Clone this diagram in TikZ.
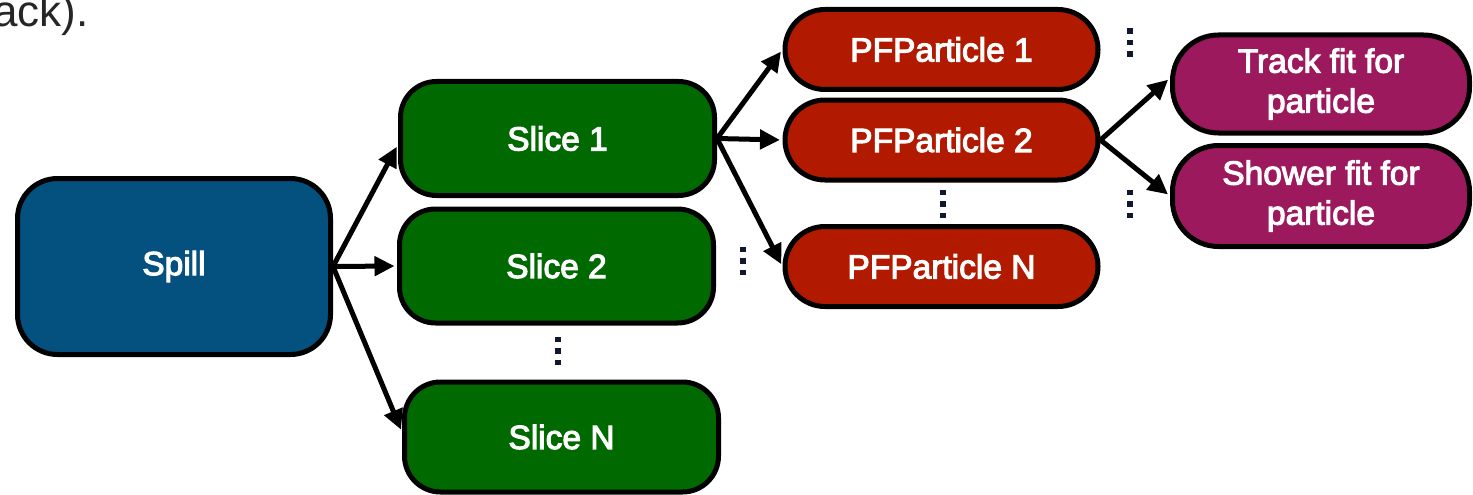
\documentclass[tikz,border=0pt]{standalone}
\usepackage{fontspec}
\setmainfont{Liberation Sans}
\newfontfamily\boxfont{Liberation Sans}[FakeBold=3.2]
\usetikzlibrary{arrows.meta}
\definecolor{spillblue}{HTML}{04507F}
\definecolor{slicegreen}{HTML}{006A00}
\definecolor{pfred}{HTML}{B21A00}
\definecolor{fitpurple}{HTML}{9B195C}
\definecolor{dotcol}{HTML}{101830}
\begin{document}
\begin{tikzpicture}[x=1pt,y=-1pt,
  box/.style={draw=black, line width=5pt, text=white, font=\boxfont\fontsize{33.5}{40}\selectfont, align=center, inner sep=0pt},
  slicebox/.style={box, fill=slicegreen, minimum width=314pt, minimum height=114pt, rounded corners=36pt},
  pfbox/.style={box, fill=pfred, minimum width=313pt, minimum height=80pt, rounded corners=40pt},
  fitbox/.style={box, fill=fitpurple, minimum width=297pt, minimum height=98pt, rounded corners=46pt},
  arr/.style={line width=5pt, -{Triangle[length=20pt,width=19pt]}, shorten >=2.5pt},
  dotsq/.style={fill=dotcol}]
\useasboundingbox (0,0) rectangle (1473,495);
\node[anchor=base west, inner sep=0pt, font=\fontsize{44}{50}\selectfont, text=black!85] (txt) at (-7,27) {ack).};
% nodes
\node[box, fill=spillblue, minimum width=313pt, minimum height=176pt, rounded corners=40pt] (spill) at (174,266.5) {Spill};
\node[slicebox] (s1) at (557.5,138.5) {Slice 1};
\node[slicebox] (s2) at (556.5,266) {Slice 2};
\node[slicebox, minimum height=110pt] (sn) at (561.5,437) {Slice N};
\node[pfbox] (p1) at (941.5,49.5) {PFParticle 1};
\node[pfbox] (p2) at (941.5,140) {PFParticle 2};
\node[pfbox] (pn) at (941.5,266.5) {PFParticle N};
\node[fitbox] (track) at (1321,84) {Track fit for\\particle};
\node[fitbox, minimum height=101pt] (shower) at (1321,196) {Shower fit for\\particle};
% connectors
\draw[arr] (spill.east) -- ([yshift=-6pt]s1.west);
\draw[arr] (spill.east) -- (s2.west);
\draw[arr] (spill.east) -- ([yshift=5pt]sn.west);
\draw[arr] (s1.east) -- (p1.west);
\draw[arr] (s1.east) -- (p2.west);
\draw[arr] (s1.east) -- (pn.west);
\draw[arr] (p2.east) -- ([yshift=6pt]track.west);
\draw[arr] (p2.east) -- (shower.west);
% vertical ellipses
\foreach \cx/\cy in {558/351, 743/261, 943/204, 1130/42.5, 1130/204}{
  \foreach \d in {-11.5,0,11.5}{
    \fill[dotsq] (\cx-2.8,\cy+\d-2.8) rectangle (\cx+2.8,\cy+\d+2.8);
  }
}
\end{tikzpicture}
\end{document}
